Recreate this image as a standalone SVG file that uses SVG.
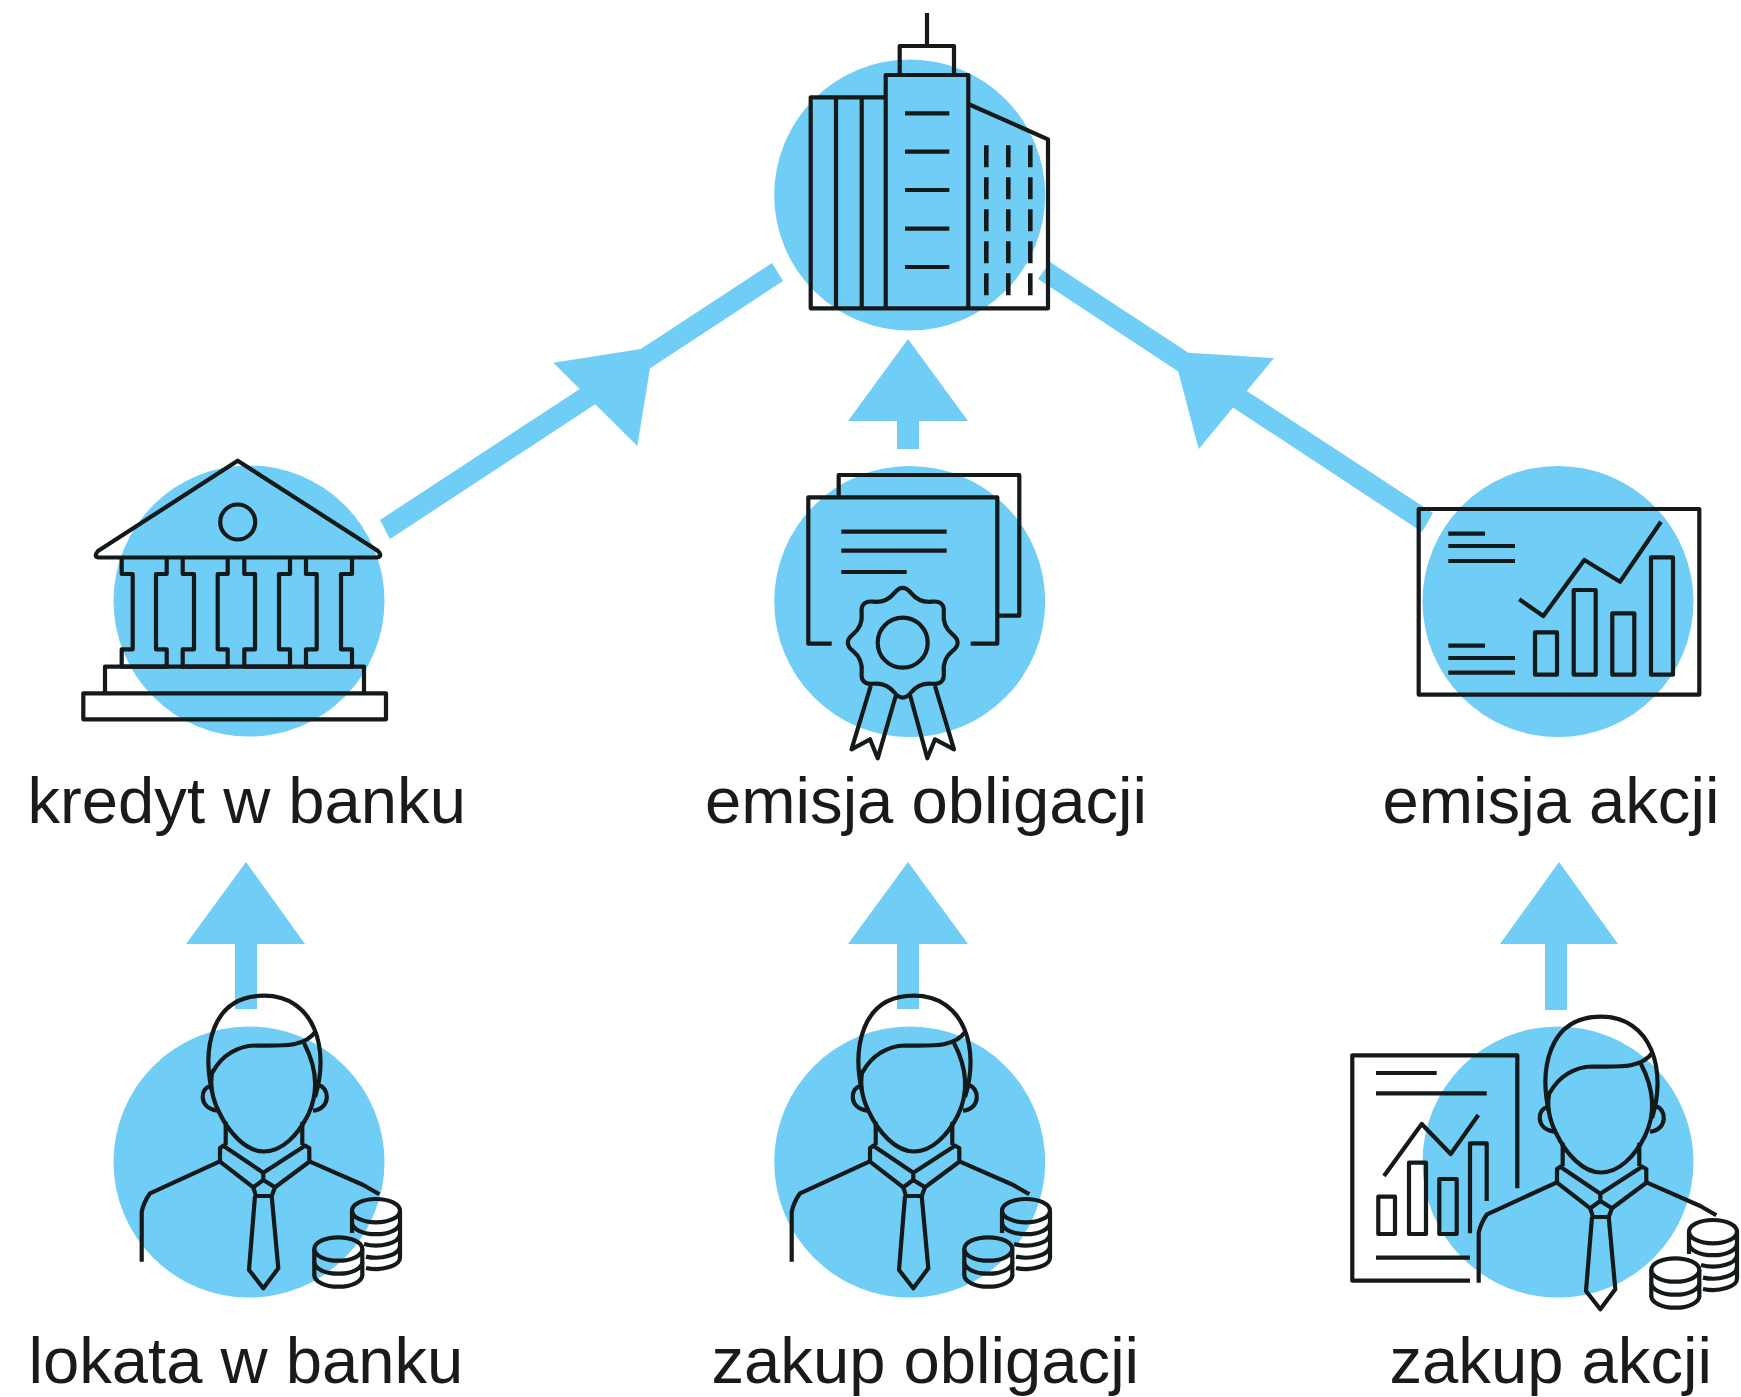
<svg xmlns="http://www.w3.org/2000/svg" width="1741" height="1397" viewBox="0 0 1741 1397">
<style>
.c{fill:#70cdf6}
.a{fill:#70cdf6;stroke:none}
.i{fill:none;stroke:#141a1a;stroke-width:4.2;stroke-linejoin:round}
.w{stroke-width:4.6}
.t{font-family:"Liberation Sans",Arial,sans-serif;font-size:65.2px;fill:#1a1a1a}
</style>
<defs>
<g id="person" class="i">
<path d="M211.7 1090C203 1050 210 995.7 264 995.7C315 995.7 330 1050 315 1097"/>
<path d="M212.7 1072C222 1055 238 1046 255 1045.5C285 1046 305 1047 316 1031"/>
<path d="M304 1043C316 1066 320 1090 308 1115C298 1135 282 1151.5 264 1151.5C246 1151.5 229 1133 219 1112C212 1098 209 1085 212.7 1070"/>
<path d="M211 1086C200 1087 198 1108 217 1110.7M318 1085C330 1087 331 1109 313 1110.7"/>
<path d="M225.7 1121.7V1145M302.3 1121.7V1145"/>
<path d="M223.3 1145.7L263.3 1172.7L305 1145.7L309.3 1148V1161.7L275 1187.3L263.3 1180L253.3 1187.3L220 1161.7V1148ZM263.3 1172.7V1180"/>
<path d="M253.3 1187.3L256 1196H271.7L275 1187.3"/>
<path d="M219.3 1161.7L150 1193.3C146 1199 143 1205 141.7 1212V1261.7"/>
<path d="M310 1161.7L363.3 1185L379.3 1194.3"/>
<path d="M255 1196L249 1270L263.3 1288.3L278.3 1268.3L271.7 1196"/>
<ellipse cx="376" cy="1210.7" rx="24" ry="11.7"/>
<path d="M352 1211V1233M400 1211V1258"/>
<path d="M352 1222.5A24 11.7 0 0 0 400 1222.5"/>
<path d="M364 1244A24 11.7 0 0 0 400 1234"/>
<path d="M366 1256.6A24 11.7 0 0 0 400 1246"/>
<path d="M366 1268A24 11.7 0 0 0 400 1257"/>
<ellipse cx="338.3" cy="1249" rx="24" ry="11.7"/>
<path d="M314.3 1249V1276M362.3 1249V1276"/>
<path d="M314.3 1262A24 11.7 0 0 0 362.3 1262"/>
<path d="M314.3 1275A24 11.7 0 0 0 362.3 1275"/>
</g>
</defs>
<rect width="1741" height="1397" fill="#fff"/>
<g id="connectors">
<path class="a" d="M772 263L783 281L390 539L380 520Z"/>
<path class="a" d="M553.3 362.7L653.5 347L637.3 446Z"/>
<path class="a" d="M1050 262L1038 279L1422 532L1433 513Z"/>
<path class="a" d="M1274 358L1198.7 449L1173 351.8Z"/>
<path class="a" d="M908 339L968 421H919V449H897V421H848Z"/>
<path class="a" d="M246 862L305 944H257V1009H235V944H186Z"/>
<path class="a" d="M908 862L968 944H919V1009H897V944H848Z"/>
<path class="a" d="M1559 862L1618 944H1567V1010H1545V944H1500Z"/>
</g>
<g id="node-spolka">
<circle class="c" cx="909.7" cy="195" r="135.5"/>
<g class="i">
<path d="M927 13V46M899.7 75V46H954V75"/>
<path d="M885.7 308.3V75H968.3V308.3"/>
<path d="M885.7 97.3H810.7V308.3H1048V139.3L968.3 104"/>
<path d="M836 97.3V308.3M861.7 97.3V308.3"/>
<path d="M905 113.3H949.3M905 151.7H949.3M905 190H949.3M905 228.7H949.3M905 267H949.3"/>
<path class="w" d="M986.3 145.3V167.3M1008.3 145.3V167.3M1030.3 145.3V167.3M986.3 177.3V199.3M1008.3 177.3V199.3M1030.3 177.3V199.3M986.3 209.3V231.3M1008.3 209.3V231.3M1030.3 209.3V231.3M986.3 241.3V263.3M1008.3 241.3V263.3M1030.3 241.3V263.3M986.3 273.3V295.3M1008.3 273.3V295.3M1030.3 273.3V295.3"/>
</g>
</g>
<g id="node-kredyt">
<circle class="c" cx="249" cy="601" r="135.5"/>
<g class="i">
<path d="M237.7 460.7L98 551Q93 557 99 557.5H377Q383 556 378 551Z"/>
<circle cx="237.7" cy="522" r="17.5"/>
<path d="M121.7 557.3V574H132.7V649.3H121.7V666.7H166.7V649.3H156V574H166.7V557.3"/>
<path d="M182.7 557.3V574H194V649.3H182.7V666.7H227.7V649.3H217.7V574H227.7V557.3"/>
<path d="M244.3 557.3V574H255V649.3H244.3V666.7H290V649.3H279V574H290V557.3"/>
<path d="M306 557.3V574H316.7V649.3H306V666.7H352V649.3H341V574H352V557.3"/>
<path d="M105 693.3V666.7H364V693.3"/>
<rect x="83.3" y="693.3" width="302.7" height="26"/>
</g>
<text class="t" x="27.5" y="823">kredyt w banku</text>
</g>
<g id="node-obligacje">
<circle class="c" cx="909.7" cy="601.5" r="135.5"/>
<g class="i">
<path d="M838.7 497V475H1019.3V615.7H997.3"/>
<path d="M831.7 643.7H808.3V497.3H997.3V643.7H970.7"/>
<path d="M841.3 531.7H946.7M841.3 550.7H946.7M841.3 572H906.7"/>
<path transform="translate(902.7 642.7)" d="M-8.25 -49.85Q0 -60 8.25 -49.85T29.45 -41.05T41.05 -29.45T49.85 -8.25T49.85 8.25T41.05 29.45T29.45 41.05T8.25 49.85T-8.25 49.85T-29.45 41.05T-41.05 29.45T-49.85 8.25T-49.85 -8.25T-41.05 -29.45T-29.45 -41.05T-8.25 -49.85Z"/>
<circle cx="902.7" cy="642.7" r="25"/>
<path d="M870.7 686L851.5 749.3L870 739.3L877.7 758.3L896 695"/>
<path d="M910 695L927.3 758.3L935 739.3L954 749.3L935 686"/>
</g>
<text class="t" x="705" y="823">emisja obligacji</text>
</g>
<g id="node-akcje">
<circle class="c" cx="1558" cy="601.5" r="135.5"/>
<g class="i">
<rect x="1418.7" y="509" width="280.6" height="185.7"/>
<path d="M1448.3 533.7H1485M1448.3 546H1515M1448.3 561H1515M1448.3 645.7H1485M1448.3 658H1515M1448.3 672.7H1515"/>
<path d="M1519.3 599.3L1543.3 616L1584.3 560L1620 581.7L1661 521.7"/>
<rect x="1535" y="632.3" width="22" height="42.4"/>
<rect x="1573.7" y="590" width="22" height="84.7"/>
<rect x="1612.3" y="613.3" width="22" height="61.4"/>
<rect x="1651" y="557.3" width="22" height="117.4"/>
</g>
<text class="t" x="1382.5" y="823">emisja akcji</text>
</g>
<g id="node-lokata">
<circle class="c" cx="249" cy="1162" r="135.5"/>
<use href="#person"/>
<text class="t" x="28.5" y="1383">lokata w banku</text>
</g>
<g id="node-zakup-obligacji">
<circle class="c" cx="909.7" cy="1162" r="135.5"/>
<use href="#person" x="650"/>
<text class="t" x="711.5" y="1383">zakup obligacji</text>
</g>
<g id="node-zakup-akcji">
<circle class="c" cx="1558" cy="1162" r="135.5"/>
<g class="i">
<path d="M1470 1280.7H1352.3V1055.3H1517.3V1188.3"/>
<path d="M1376 1073H1436.7M1376 1093.3H1486.7M1376 1257.7H1470"/>
<path d="M1384 1176L1421.7 1124L1450.7 1154L1478.3 1115"/>
<rect x="1378.3" y="1196.7" width="16.7" height="37.3"/>
<rect x="1409" y="1162.7" width="17" height="71.3"/>
<rect x="1439.3" y="1179" width="17.4" height="55"/>
<path d="M1470 1233.3V1143.3H1486.7V1201"/>
</g>
<use href="#person" x="1337" y="21"/>
<text class="t" x="1389.5" y="1383">zakup akcji</text>
</g>
</svg>
